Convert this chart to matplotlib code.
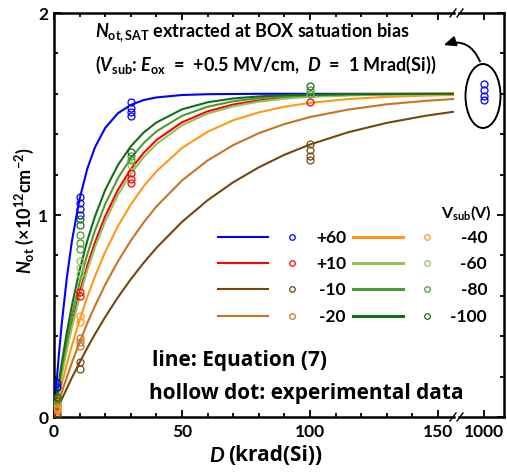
import numpy as np
import matplotlib
matplotlib.use('Agg')
import matplotlib.pyplot as plt
from matplotlib.lines import Line2D
from matplotlib.patches import Ellipse, FancyArrowPatch

plt.rcParams['font.family'] = ['Lato', 'DejaVu Sans']
plt.rcParams['mathtext.fontset'] = 'custom'
plt.rcParams['mathtext.rm'] = 'Lato:bold'
plt.rcParams['mathtext.it'] = 'Lato:italic:bold'
plt.rcParams['mathtext.bf'] = 'Lato:bold'

W, H = 507, 477

# model curves (Equation 7)
dose = [0, 1, 2, 3, 5, 7, 10, 13, 16, 20, 25, 30, 35, 40, 50, 60, 70, 80, 90, 100, 115, 130, 145, 156]
n_p60 = [0, 0.170, 0.322, 0.458, 0.688, 0.871, 1.080, 1.229, 1.335, 1.431, 1.504, 1.545, 1.569, 1.582, 1.594, 1.598,
         1.599, 1.600, 1.600, 1.600, 1.600, 1.600, 1.600, 1.600]
n_p10 = [0, 0.076, 0.148, 0.217, 0.345, 0.461, 0.615, 0.749, 0.864, 0.994, 1.125, 1.227, 1.307, 1.371, 1.459, 1.513,
         1.547, 1.567, 1.580, 1.588, 1.594, 1.597, 1.599, 1.599]
n_m10 = [0, 0.029, 0.058, 0.087, 0.141, 0.195, 0.270, 0.342, 0.410, 0.495, 0.593, 0.682, 0.763, 0.837, 0.966, 1.073,
         1.162, 1.236, 1.298, 1.349, 1.410, 1.456, 1.491, 1.511]
n_m20 = [0, 0.042, 0.082, 0.121, 0.197, 0.269, 0.370, 0.464, 0.550, 0.655, 0.771, 0.873, 0.963, 1.042, 1.171, 1.270,
         1.346, 1.405, 1.450, 1.485, 1.522, 1.548, 1.565, 1.574]
n_m40 = [0, 0.056, 0.110, 0.163, 0.262, 0.354, 0.480, 0.594, 0.696, 0.817, 0.945, 1.052, 1.142, 1.216, 1.332, 1.412,
         1.469, 1.508, 1.536, 1.555, 1.574, 1.585, 1.591, 1.594]
n_m60 = [0, 0.073, 0.142, 0.208, 0.332, 0.445, 0.595, 0.726, 0.840, 0.969, 1.100, 1.204, 1.286, 1.351, 1.444, 1.502,
         1.538, 1.561, 1.576, 1.585, 1.592, 1.596, 1.598, 1.599]
n_m80 = [0, 0.084, 0.163, 0.238, 0.377, 0.502, 0.665, 0.805, 0.923, 1.054, 1.183, 1.281, 1.356, 1.414, 1.491, 1.536,
         1.563, 1.578, 1.587, 1.593, 1.597, 1.599, 1.599, 1.600]
n_m100 = [0, 0.094, 0.183, 0.266, 0.418, 0.553, 0.727, 0.872, 0.993, 1.124, 1.248, 1.340, 1.408, 1.458, 1.523, 1.558,
          1.577, 1.587, 1.593, 1.596, 1.598, 1.599, 1.600, 1.600]

# experimental points (hollow dots)
d_p60 = [1, 1, 10, 10, 10, 10, 30, 30, 30, 30, 100]
e_p60 = [0.17, 0.15, 1.09, 1.06, 1.03, 1.00, 1.56, 1.53, 1.51, 1.49, 1.60]
d_p10 = [1, 1, 10, 10, 30, 30, 30, 100]
e_p10 = [0.08, 0.06, 0.62, 0.60, 1.21, 1.18, 1.16, 1.56]
d_m10 = [1, 1, 10, 10, 100, 100, 100, 100]
e_m10 = [0.02, 0.01, 0.27, 0.24, 1.35, 1.32, 1.29, 1.27]
d_m20 = [1, 1, 10, 10, 10]
e_m20 = [0.04, 0.03, 0.39, 0.37, 0.35]
d_m40 = [1, 1, 10, 10]
e_m40 = [0.05, 0.04, 0.50, 0.47]
d_m60 = [1, 10, 10, 10, 30, 100]
e_m60 = [0.07, 0.77, 0.74, 0.71, 1.25, 1.60]
d_m80 = [1, 10, 10, 10, 30, 30, 100]
e_m80 = [0.09, 0.90, 0.86, 0.83, 1.29, 1.27, 1.62]
d_m100 = [1, 10, 10, 30, 100]
e_m100 = [0.10, 0.98, 0.95, 1.31, 1.64]

# saturation points at 1 Mrad(Si)
d_sat = [1000, 1000, 1000, 1000]
e_sat = [1.65, 1.62, 1.59, 1.57]

labels = ['+60', '+10', '-10', '-20', '-40', '-60', '-80', '-100']
colors = ['#0000ff', '#ff0000', '#74470f', '#c87420', '#ff9912', '#8fc45a', '#4a9c32', '#176c17']
curves = [n_p60, n_p10, n_m10, n_m20, n_m40, n_m60, n_m80, n_m100]
exp_d = [d_p60, d_p10, d_m10, d_m20, d_m40, d_m60, d_m80, d_m100]
exp_n = [e_p60, e_p10, e_m10, e_m20, e_m40, e_m60, e_m80, e_m100]


def fx(x):
    return x / W


def fy(y):
    return 1 - y / H


fig = plt.figure(figsize=(W / 100, H / 100), dpi=100)
ax1 = fig.add_axes([fx(54), fy(418), (454 - 54) / W, (418 - 14) / H])
ax2 = fig.add_axes([fx(459), fy(418), (504 - 459) / W, (418 - 14) / H])

for c, n in zip(colors, curves):
    ax1.plot(dose, n, color=c, lw=1.5, zorder=2)
for c, de, ne in zip(colors, exp_d, exp_n):
    ax1.plot(de, ne, 'o', mfc='none', mec=c, ms=5, mew=0.9, zorder=3)
ax2.plot(d_sat, e_sat, 'o', mfc='none', mec=colors[0], ms=5, mew=0.9)

ax1.set_xlim(0, 400 / 2.56)
ax2.set_xlim(1000 - 25 / 2.56, 1000 + 20 / 2.56)
for ax in (ax1, ax2):
    ax.set_ylim(0, 2)
    ax.set_yticks([0, 1, 2])
    ax.set_yticks(np.arange(0, 2.01, 0.2), minor=True)
    for s in ax.spines.values():
        s.set_linewidth(1.8)
    ax.tick_params(which='both', direction='in', top=True, right=True, width=1.3)
    ax.tick_params(which='major', length=5, labelsize=12.5, pad=4)
    ax.tick_params(which='minor', length=3)

ax1.set_xticks([0, 50, 100, 150])
ax1.set_xticks(np.arange(0, 157, 10), minor=True)
ax1.spines['right'].set_visible(False)
ax1.tick_params(which='both', right=False)
ax2.set_xticks([1000])
ax2.set_xticks([], minor=True)
ax2.spines['left'].set_visible(False)
ax2.tick_params(which='both', left=False, labelleft=False)
for lab in ax1.get_xticklabels() + ax1.get_yticklabels() + ax2.get_xticklabels():
    lab.set_fontweight('bold')

# axis break marks
for xb in (453, 460):
    for yb in (14, 418):
        fig.add_artist(Line2D([fx(xb - 3), fx(xb + 3)], [fy(yb + 4), fy(yb - 4)], color='black', lw=1))

# axis labels
fig.text(fx(24), fy(211), r'$N_{\mathrm{ot}}$ ($\times$10$^{\mathrm{12}}$cm$^{\mathrm{-2}}$)', rotation=90,
         ha='center', va='center', fontsize=13, fontweight='bold')
fig.text(fx(209), fy(456), r'$D$', ha='left', va='center', fontsize=15, fontweight='bold')
fig.text(fx(228), fy(456), '(krad(Si))', ha='left', va='center', fontsize=15, fontweight='bold',
         family=['Open Sans', 'DejaVu Sans'])

# annotation at top
fig.text(fx(95), fy(33), r'$N_{\mathrm{ot,SAT}}$ extracted at BOX satuation bias', ha='left', va='center',
         fontsize=13, fontweight='bold')
fig.text(fx(95), fy(65), r'($V_{\mathrm{sub}}$: $E_{\mathrm{ox}}$  =  +0.5 MV/cm,  $D$  =  1 Mrad(Si))', ha='left',
         va='center', fontsize=13, fontweight='bold')
fig.add_artist(Ellipse((fx(483), fy(97)), 35 / W, 64 / H, transform=fig.transFigure, fill=False,
                       ec='black', lw=1.4))
fig.add_artist(FancyArrowPatch((fx(481), fy(65)), (fx(441), fy(47)), transform=fig.transFigure,
                               connectionstyle='arc3,rad=0.5', arrowstyle='-|>,head_length=7,head_width=3',
                               color='black', lw=1.4))

# legend
fig.text(fx(466), fy(213), r'V$_{\mathrm{sub}}$(V)', ha='center', va='center', fontsize=11.5, fontweight='bold')
rows = [238, 264, 290, 317]
for i, (lab, c) in enumerate(zip(labels, colors)):
    col = i // 4
    y = rows[i % 4]
    x0, x1, xm, xt = ((218, 268, 292, 346) if col == 0 else (353, 403, 427, 487))
    fig.add_artist(Line2D([fx(x0), fx(x1)], [fy(y), fy(y)], color=c, lw=1.5 if col == 0 else 2.2))
    fig.add_artist(Line2D([fx(xm)], [fy(y)], marker='o', mfc='none', mec=c, ms=4, mew=0.9))
    fig.text(fx(xt), fy(y), lab, ha='right', va='center', fontsize=12.5, fontweight='bold')

fig.text(fx(152), fy(361), 'line: Equation (7)', ha='left', va='center', fontsize=15, fontweight='bold',
         family=['Open Sans', 'DejaVu Sans'])
fig.text(fx(149), fy(394), 'hollow dot: experimental data', ha='left', va='center', fontsize=15,
         fontweight='bold', family=['Open Sans', 'DejaVu Sans'])

fig.savefig('out.png', dpi=100)
